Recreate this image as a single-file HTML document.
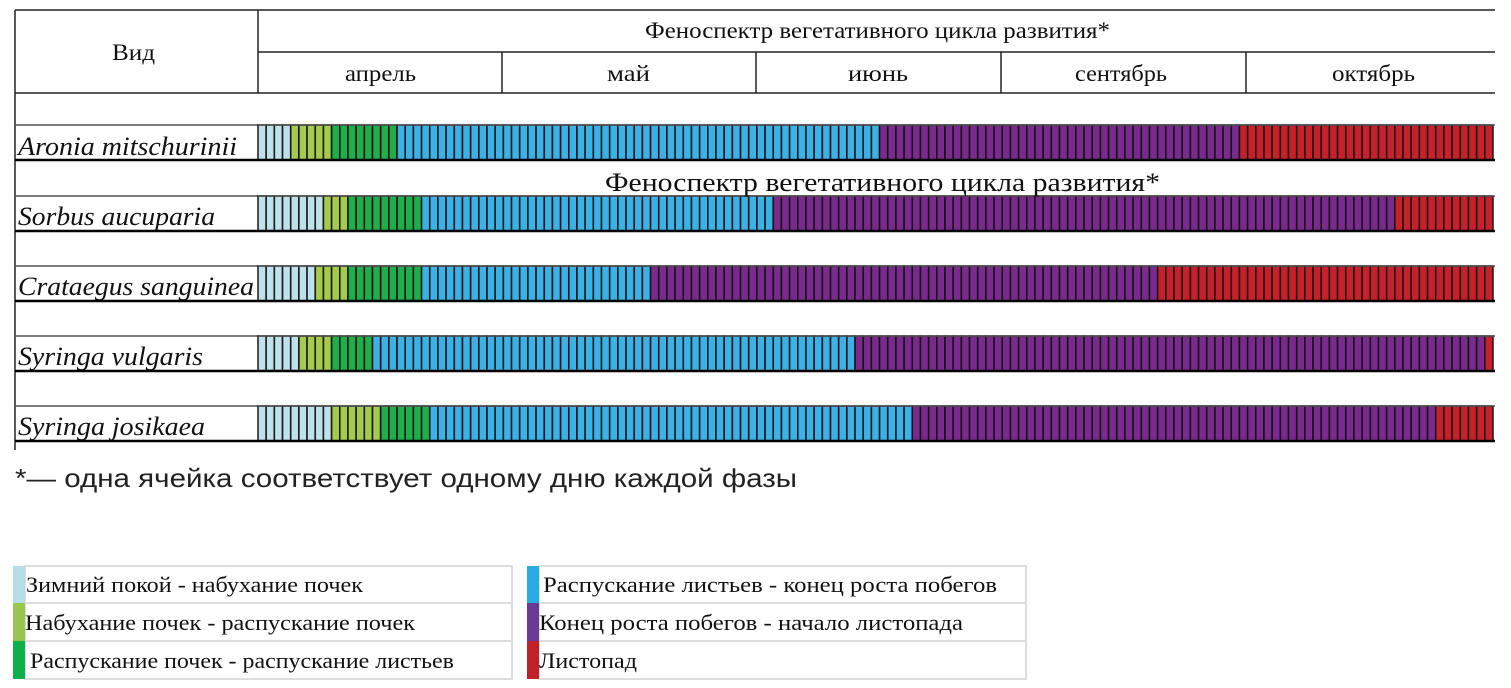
<!DOCTYPE html>
<html><head><meta charset="utf-8"><style>
body{margin:0;background:#fff;width:1511px;height:688px;overflow:hidden}
svg{display:block}
.s{font-family:"Liberation Serif",serif}
</style></head><body>
<svg id="c" width="1511" height="688" xmlns="http://www.w3.org/2000/svg">
<g stroke="#222" stroke-width="1.5" fill="none">
<line x1="15" y1="10" x2="1495" y2="10"/>
<line x1="15" y1="10" x2="15" y2="450"/>
<line x1="258" y1="10" x2="258" y2="93"/>
<line x1="258" y1="52" x2="1495" y2="52"/>
<line x1="15" y1="93" x2="1495" y2="93"/>
<line x1="502" y1="52" x2="502" y2="93"/>
<line x1="756" y1="52" x2="756" y2="93"/>
<line x1="1001" y1="52" x2="1001" y2="93"/>
<line x1="1246" y1="52" x2="1246" y2="93"/>
<line x1="15" y1="125" x2="258" y2="125" stroke="#555"/>
<line x1="15" y1="196" x2="273" y2="196" stroke="#555"/>
<line x1="15" y1="266" x2="258" y2="266" stroke="#555"/>
<line x1="15" y1="336" x2="258" y2="336" stroke="#555"/>
<line x1="15" y1="406" x2="258" y2="406" stroke="#555"/>
</g>
<g class="s" font-size="23" fill="#111">
<text x="112" y="60" textLength="43" lengthAdjust="spacingAndGlyphs">Вид</text>
<text x="645" y="38" textLength="465" lengthAdjust="spacingAndGlyphs">Феноспектр вегетативного цикла развития*</text>
<text x="345" y="81" textLength="71" lengthAdjust="spacingAndGlyphs">апрель</text>
<text x="607" y="81" textLength="43" lengthAdjust="spacingAndGlyphs">май</text>
<text x="848" y="81" textLength="60" lengthAdjust="spacingAndGlyphs">июнь</text>
<text x="1075" y="81" textLength="92" lengthAdjust="spacingAndGlyphs">сентябрь</text>
<text x="1332" y="81" textLength="83" lengthAdjust="spacingAndGlyphs">октябрь</text>
</g>
<g class="s" font-size="26" font-style="italic" fill="#111" lengthAdjust="spacingAndGlyphs">
<text x="18" y="155" textLength="219" lengthAdjust="spacingAndGlyphs">Aronia mitschurinii</text>
<text x="18" y="225" textLength="197" lengthAdjust="spacingAndGlyphs">Sorbus aucuparia</text>
<text x="18" y="295" textLength="236" lengthAdjust="spacingAndGlyphs">Crataegus sanguinea</text>
<text x="18" y="365" textLength="185" lengthAdjust="spacingAndGlyphs">Syringa vulgaris</text>
<text x="18" y="435" textLength="187" lengthAdjust="spacingAndGlyphs">Syringa josikaea</text>
</g>
<g id="bars"></g>
<text class="s" x="605" y="191" font-size="26" fill="#111" textLength="555" lengthAdjust="spacingAndGlyphs">Феноспектр вегетативного цикла развития*</text>
<text x="15" y="487" font-family="Liberation Sans, sans-serif" font-size="26" fill="#222" textLength="782" lengthAdjust="spacingAndGlyphs">*— одна ячейка соответствует одному дню каждой фазы</text>
<g stroke="#ddd" stroke-width="2" fill="#fff">
<rect x="25" y="566" width="487" height="37"/><rect x="25" y="603" width="487" height="38"/><rect x="25" y="641" width="487" height="38"/>
<rect x="539" y="566" width="487" height="37"/><rect x="539" y="603" width="487" height="38"/><rect x="539" y="641" width="487" height="38"/>
</g>
<rect x="13" y="566" width="12" height="37" fill="#b5dde8"/>
<rect x="13" y="603" width="12" height="38" fill="#97c650"/>
<rect x="13" y="641" width="12" height="38" fill="#0fb04c"/>
<rect x="527" y="566" width="12" height="37" fill="#28ace4"/>
<rect x="527" y="603" width="12" height="38" fill="#6c3a96"/>
<rect x="527" y="641" width="12" height="38" fill="#c02027"/>
<g class="s" font-size="22" fill="#111">
<text x="26" y="592" textLength="337" lengthAdjust="spacingAndGlyphs">Зимний покой - набухание почек</text>
<text x="25" y="630" textLength="390" lengthAdjust="spacingAndGlyphs">Набухание почек - распускание почек</text>
<text x="30" y="668" textLength="424" lengthAdjust="spacingAndGlyphs">Распускание почек - распускание листьев</text>
<text x="543" y="592" textLength="454" lengthAdjust="spacingAndGlyphs">Распускание листьев - конец роста побегов</text>
<text x="539" y="630" textLength="424" lengthAdjust="spacingAndGlyphs">Конец роста побегов - начало листопада</text>
<text x="539" y="668" textLength="98" lengthAdjust="spacingAndGlyphs">Листопад</text>
</g>
</svg>
<script>
var cols=["#bfe1eb","#a4cb4e","#1fae4c","#3cb1e5","#7a2a8d","#c8202b"];
var rows=[[125,[4,5,8,59,44,31]],[196,[8,3,9,43,76,12]],[266,[7,4,9,28,62,41]],[336,[5,4,5,59,77,1]],[406,[9,6,6,59,64,7]]];
var x0=258,w=1235/151,h=35,s="";
rows.forEach(function(r){var y=r[0],i=0;
 r[1].forEach(function(n,k){for(var j=0;j<n;j++){var x=x0+i*w;s+='<rect x="'+x.toFixed(2)+'" y="'+y+'" width="'+w.toFixed(2)+'" height="'+h+'" fill="'+cols[k]+'" stroke="#111" stroke-opacity="0.9" stroke-width="1.6"/>';i++;}});
 s+='<line x1="15" y1="'+(y+h)+'" x2="1495" y2="'+(y+h)+'" stroke="#000" stroke-width="2.5"/>';
 s+='<line x1="258" y1="'+y+'" x2="1495" y2="'+y+'" stroke="#555" stroke-width="1.5"/>';
});
document.getElementById("bars").innerHTML=s;
</script>
</body></html>
